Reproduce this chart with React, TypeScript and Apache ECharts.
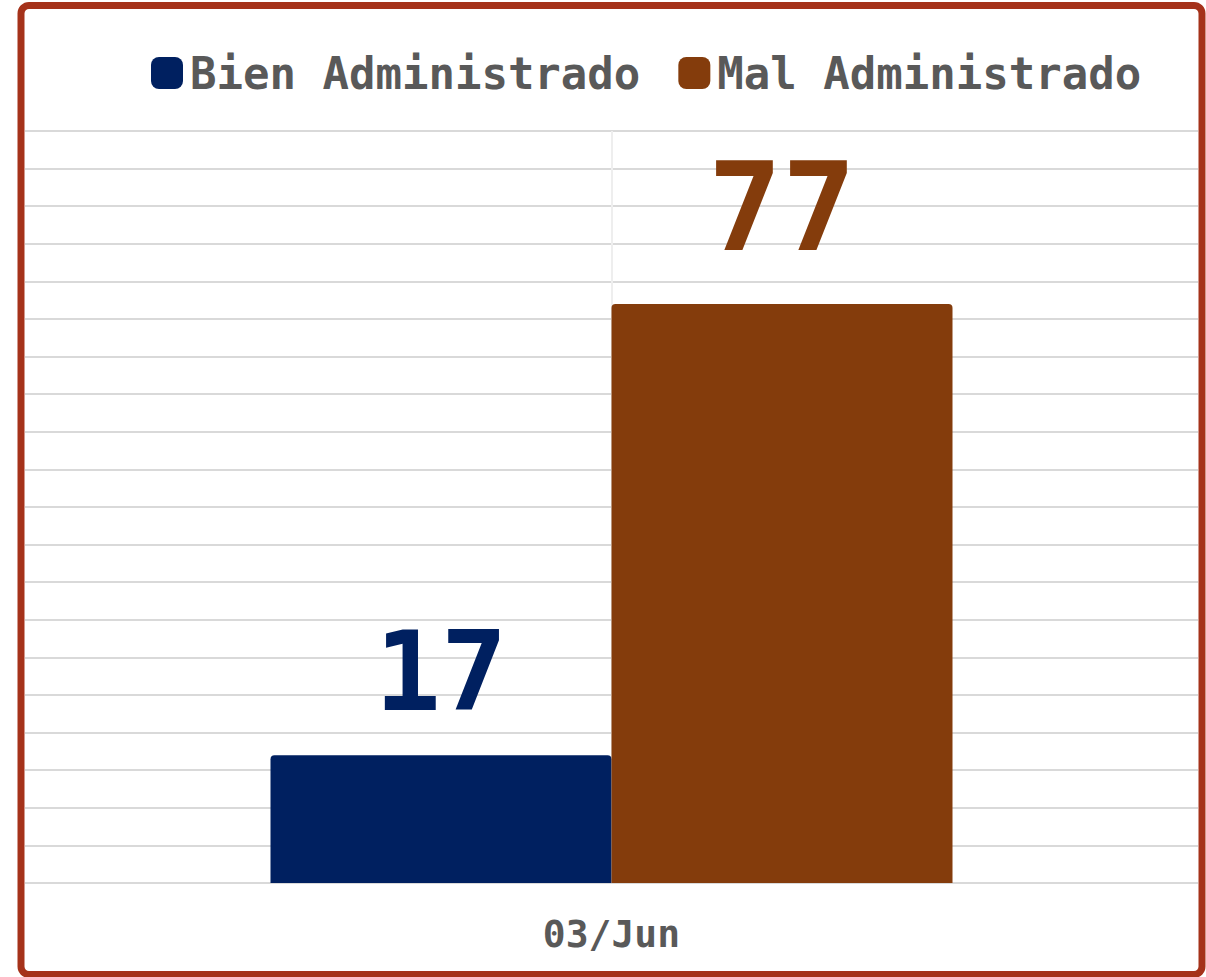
import React, { useEffect, useRef } from "react";
import * as echarts from "echarts";

const categories = ["03/Jun"];
const seriesNames = ["Bien Administrado", "Mal Administrado"];
const bienValues = [17];
const malValues = [77];
const colors = ["#002060", "#843C0C"];

const FONT = "'DejaVu Sans Mono', monospace";

export default function App() {
  const ref = useRef<HTMLDivElement>(null);
  useEffect(() => {
    document.body.style.margin = "0";
    const chart = echarts.init(ref.current!, null, { renderer: "svg" });
    chart.setOption({
      animation: false,
      backgroundColor: "#ffffff",
      legend: {
        left: 146,
        top: 46,
        itemWidth: 32,
        itemHeight: 32,
        itemGap: 38,
        icon: "roundRect",
        textStyle: {
          fontFamily: FONT,
          fontWeight: "bold",
          fontSize: 44,
          color: "#595959",
          padding: [0, 0, 0, 2],
        },
        data: seriesNames,
      },
      grid: { left: 25, right: 8, top: 131, bottom: 94, containLabel: false },
      xAxis: [
        {
          type: "category",
          data: categories,
          axisLine: { show: false },
          axisTick: { show: false },
          axisLabel: {
            fontFamily: FONT,
            fontWeight: "bold",
            fontSize: 38,
            color: "#595959",
            margin: 32,
          },
          splitLine: { show: false },
        },
        {
          type: "value",
          min: 0,
          max: 2,
          interval: 1,
          show: true,
          position: "top",
          axisLine: { show: false },
          axisTick: { show: false },
          axisLabel: { show: false },
          splitLine: {
            show: true,
            lineStyle: {
              color: ["rgba(0,0,0,0)", "#eeeeee", "rgba(0,0,0,0)"],
              width: 2,
            },
          },
        },
      ],
      yAxis: {
        type: "value",
        min: 0,
        max: 100,
        interval: 5,
        axisLabel: { show: false },
        axisLine: { show: false },
        axisTick: { show: false },
        splitLine: { lineStyle: { color: "#d9d9d9", width: 2 } },
      },
      series: [
        {
          name: seriesNames[0],
          type: "bar",
          data: bienValues,
          barWidth: 341,
          barGap: "0%",
          itemStyle: { color: colors[0], borderRadius: [4, 4, 0, 0] },
          label: {
            show: true,
            position: "top",
            distance: 28,
            fontFamily: FONT,
            fontWeight: "bold",
            fontSize: 110,
            color: colors[0],
          },
        },
        {
          name: seriesNames[1],
          type: "bar",
          data: malValues,
          barWidth: 341,
          barGap: "0%",
          itemStyle: { color: colors[1], borderRadius: [4, 4, 0, 0] },
          label: {
            show: true,
            position: "top",
            distance: 35,
            fontFamily: FONT,
            fontWeight: "bold",
            fontSize: 123,
            color: colors[1],
          },
        },
      ],
      graphic: [
        {
          type: "rect",
          shape: { x: 21, y: 5.5, width: 1181, height: 969, r: 8 },
          style: { fill: "none", stroke: "#A5321A", lineWidth: 7 },
          z: 100,
        },
      ],
    });
    return () => chart.dispose();
  }, []);
  return <div ref={ref} style={{ width: 1206, height: 977 }} />;
}
